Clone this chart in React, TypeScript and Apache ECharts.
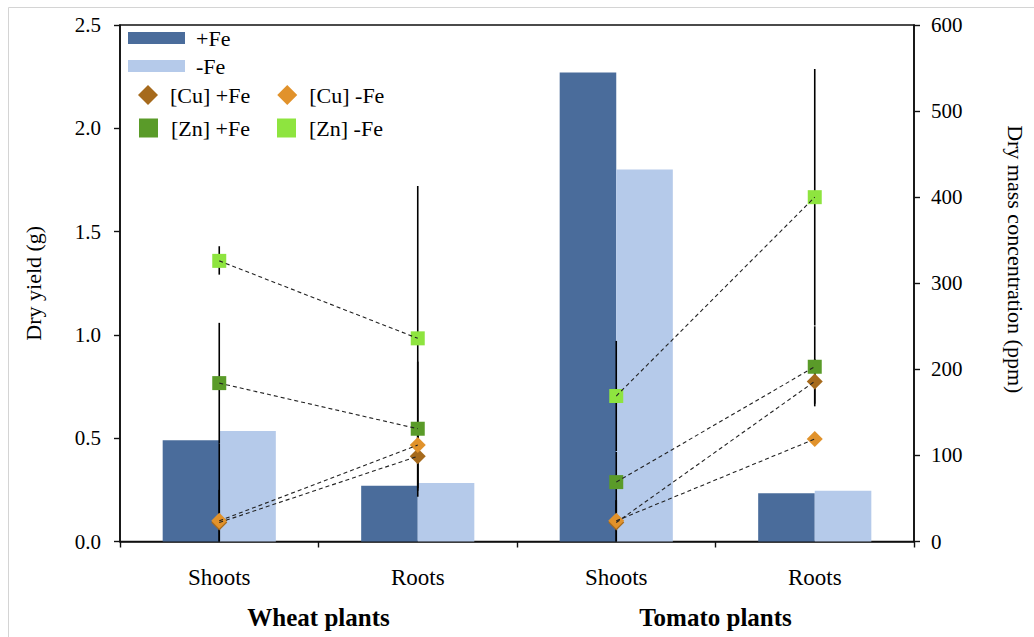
import React, { useEffect, useRef } from "react";
import * as echarts from "echarts";

const categories = ["Shoots", "Roots", "Shoots", "Roots"];
const groups = ["Wheat plants", "Tomato plants"];

// Dry yield (g)
const yieldPlusFe = [0.49, 0.27, 2.27, 0.233];
const yieldMinusFe = [0.535, 0.283, 1.8, 0.246];

// Dry mass concentration (ppm)
const cuPlusFe = [22, 99, 22, 186];
const cuMinusFe = [24, 112, 24, 119];
const znPlusFe = [184, 131, 69, 203];
const znMinusFe = [326, 236, 169, 400];

// error bar ranges [low, high] (ppm)
const cuPlusFeErr = [[0, 114], [62, 136], [0, 48], [160, 212]];
const cuMinusFeErr = [[0, 60], [90, 134], [0, 48], null];
const znPlusFeErr = [[114, 254], [52, 209], [34, 104], [157, 250]];
const znMinusFeErr = [[310, 343], [59, 413], [105, 233], [251, 549]];

const leftTicks = { min: 0, max: 2.5, interval: 0.5 };
const rightTicks = { min: 0, max: 600, interval: 100 };

const FONT = "'Liberation Serif', 'Times New Roman', serif";

const colors = {
  plusFe: "#4a6c9b",
  minusFe: "#b5caea",
  cuPlus: "#a66a1c",
  cuMinus: "#e1922b",
  znPlus: "#5a9b29",
  znMinus: "#8ee43f",
};

export default function App() {
  const ref = useRef<HTMLDivElement>(null);

  useEffect(() => {
    if (!ref.current) return;
    const chart = echarts.init(ref.current, null, { renderer: "svg" });

    const scatterDefs = [
      { name: "[Cu] +Fe", data: cuPlusFe, color: colors.cuPlus, symbol: "diamond", size: 16 },
      { name: "[Cu] -Fe", data: cuMinusFe, color: colors.cuMinus, symbol: "diamond", size: 16 },
      { name: "[Zn] +Fe", data: znPlusFe, color: colors.znPlus, symbol: "rect", size: 14 },
      { name: "[Zn] -Fe", data: znMinusFe, color: colors.znMinus, symbol: "rect", size: 14 },
    ];

    const errData: number[][] = [];
    [cuPlusFeErr, cuMinusFeErr, znPlusFeErr, znMinusFeErr].forEach((arr) => {
      arr.forEach((r, i) => {
        if (r) errData.push([i, r[0], r[1]]);
      });
    });

    const lineSeries: any[] = [];
    scatterDefs.forEach((d) => {
      const wheat = [d.data[0], d.data[1], null, null];
      const tomato = [null, null, d.data[2], d.data[3]];
      [wheat, tomato].forEach((arr) => {
        lineSeries.push({
          type: "line",
          yAxisIndex: 1,
          data: arr,
          symbol: "none",
          connectNulls: false,
          silent: true,
          z: 6,
          lineStyle: { color: "#222", width: 1.1, type: [4, 3] },
        });
      });
    });

    const axisLine = { show: true, lineStyle: { color: "#111", width: 1.6 } };
    const axisTick = { show: true, length: 6, lineStyle: { color: "#111", width: 1.4 } };

    chart.setOption({
      animation: false,
      backgroundColor: "#fff",
      textStyle: { fontFamily: FONT },
      grid: {
        left: 120,
        right: 117,
        top: 25,
        bottom: 95.5,
        show: true,
        borderColor: "#111",
        borderWidth: 1.6,
        backgroundColor: "transparent",
      },
      graphic: [
        {
          type: "rect",
          z: -10,
          shape: { x: 8.5, y: 7.5, width: 1200, height: 800 },
          style: { fill: "none", stroke: "#d4d4d4", lineWidth: 1 },
          silent: true,
        },
      ],
      legend: [
        {
          orient: "vertical",
          left: 128,
          top: 24,
          padding: 0,
          itemWidth: 57,
          itemHeight: 12,
          itemGap: 0,
          icon: "rect",
          textStyle: { fontFamily: FONT, fontSize: 22, color: "#000", lineHeight: 28, padding: [0, 0, 0, 6] },
          data: ["+Fe", "-Fe"],
        },
        {
          orient: "horizontal",
          left: 138,
          top: 81,
          padding: 0,
          itemWidth: 20,
          itemHeight: 20,
          itemGap: 27,
          textStyle: { fontFamily: FONT, fontSize: 22, color: "#000", lineHeight: 28, padding: [0, 0, 0, 7] },
          data: [
            { name: "[Cu] +Fe", icon: "diamond" },
            { name: "[Cu] -Fe", icon: "diamond" },
          ],
        },
        {
          orient: "horizontal",
          left: 139,
          top: 114,
          padding: 0,
          itemWidth: 19,
          itemHeight: 19,
          itemGap: 27,
          textStyle: { fontFamily: FONT, fontSize: 22, color: "#000", lineHeight: 28, padding: [0, 0, 0, 8] },
          data: [
            { name: "[Zn] +Fe", icon: "rect" },
            { name: "[Zn] -Fe", icon: "rect" },
          ],
        },
      ],
      xAxis: [
        {
          type: "category",
          data: categories,
          position: "bottom",
          axisLine,
          axisTick: { ...axisTick, length: 6, alignWithLabel: false },
          axisLabel: { fontFamily: FONT, fontSize: 23, color: "#000", margin: 24 },
          splitLine: { show: false },
        },
        {
          type: "category",
          data: groups,
          position: "bottom",
          axisLine: { show: false },
          axisTick: { show: false },
          axisLabel: { fontFamily: FONT, fontSize: 25, fontWeight: "bold", color: "#000", margin: 63 },
          splitLine: { show: false },
        },
      ],
      yAxis: [
        {
          type: "value",
          position: "left",
          ...leftTicks,
          name: "Dry yield (g)",
          nameLocation: "middle",
          nameRotate: 90,
          nameGap: 76,
          nameTextStyle: { fontFamily: FONT, fontSize: 22, color: "#000" },
          axisLine,
          axisTick,
          axisLabel: {
            fontFamily: FONT,
            fontSize: 21,
            color: "#000",
            margin: 19,
            formatter: (v: number) => v.toFixed(1),
          },
          splitLine: { show: false },
        },
        {
          type: "value",
          position: "right",
          ...rightTicks,
          name: "Dry mass concentration (ppm)",
          nameLocation: "middle",
          nameRotate: -90,
          nameGap: 90,
          nameTextStyle: { fontFamily: FONT, fontSize: 22, color: "#000", padding: [0, 48, 0, 0] },
          axisLine,
          axisTick,
          axisLabel: { fontFamily: FONT, fontSize: 21, color: "#000", margin: 17 },
          splitLine: { show: false },
        },
      ],
      series: [
        {
          name: "+Fe",
          type: "bar",
          data: yieldPlusFe,
          barGap: "0%",
          barCategoryGap: "43%",
          itemStyle: { color: colors.plusFe },
          z: 2,
        },
        {
          name: "-Fe",
          type: "bar",
          data: yieldMinusFe,
          barGap: "0%",
          barCategoryGap: "43%",
          itemStyle: { color: colors.minusFe },
          z: 2,
        },
        {
          type: "custom",
          yAxisIndex: 1,
          z: 3,
          silent: true,
          encode: { x: 0, y: [1, 2] },
          data: errData,
          renderItem: (_params: any, api: any) => {
            const x = api.value(0);
            const p1 = api.coord([x, api.value(1)]);
            const p2 = api.coord([x, api.value(2)]);
            return {
              type: "line",
              shape: { x1: p1[0], y1: p1[1], x2: p2[0], y2: p2[1] },
              style: { stroke: "#000", lineWidth: 1.6 },
            };
          },
        },
        ...scatterDefs.map((d) => ({
          name: d.name,
          type: "scatter",
          yAxisIndex: 1,
          data: d.data,
          symbol: d.symbol,
          symbolSize: d.size,
          itemStyle: { color: d.color, opacity: 1 },
          z: 4,
        })),
        ...lineSeries,
      ],
    });

    return () => chart.dispose();
  }, []);

  return (
    <div
      ref={ref}
      style={{ position: "absolute", left: 0, top: 0, width: 1034, height: 637, background: "#fff" }}
    />
  );
}
